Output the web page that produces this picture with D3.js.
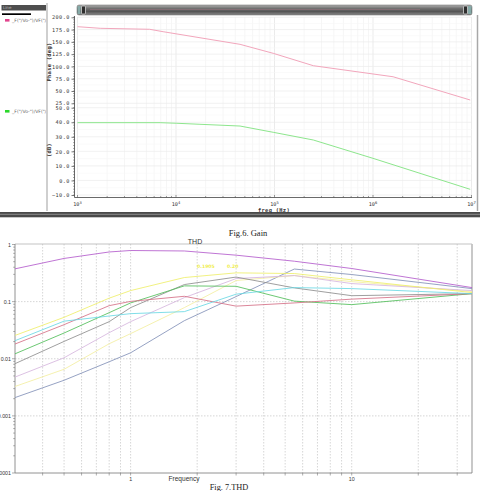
<!DOCTYPE html>
<html>
<head>
<meta charset="utf-8">
<script src="https://cdn.jsdelivr.net/npm/d3@7"></script>
<style>
  body { margin: 0; background: #fff; }
  svg { display: block; }
  .mono { font-family: "DejaVu Sans Mono", monospace; fill: #333; }
</style>
</head>
<body>
<div id="chart"></div>
<script>
// ---- Fig.6 (bode) data ----
const bodeDecades = [1e3, 1e4, 1e5, 1e6, 1e7];
const phaseTicks = [25, 50, 75, 100, 125, 150, 175, 200];
const gainTicks = [-10, 0, 10, 20, 30, 40, 50];

const phaseFreq = [1e3, 1.7e3, 5.4e3, 7.4e3, 4.47e4, 9.7e4, 2.48e5, 1.6e6, 9.7e6];
const phaseDeg  = [180.9, 177.6, 175.6, 170.7, 145, 126.7, 101.5, 79, 31.7];

const gainFreq = [1e3, 6.9e3, 1.02e4, 1.75e4, 4.47e4, 9.7e4, 2.48e5, 1.0e6, 9.7e6];
const gainDb   = [39.7, 39.7, 39.3, 38.6, 37.4, 33.1, 27.8, 15.2, -6.1];

// ---- Fig.7 (THD) data ----
const thdFreq = [0.3, 0.5, 0.8, 1, 1.75, 3, 5.5, 10, 35];
const thdPurple     = [0.375, 0.57, 0.74, 0.785, 0.77, 0.65, 0.51, 0.38, 0.176];
const thdYellow     = [0.0256, 0.0531, 0.115, 0.156, 0.264, 0.319, 0.31, 0.241, 0.144];
const thdCyan       = [0.0207, 0.0455, 0.056, 0.0616, 0.0668, 0.135, 0.176, 0.169, 0.138];
const thdRed        = [0.0181, 0.0395, 0.085, 0.101, 0.124, 0.0834, 0.0949, 0.1106, 0.138];
const thdGreen      = [0.0122, 0.0282, 0.0641, 0.0949, 0.1886, 0.1856, 0.102, 0.0886, 0.138];
const thdGray       = [0.0082, 0.0201, 0.0446, 0.0785, 0.199, 0.269, 0.174, 0.127, 0.138];
const thdLavender   = [0.00478, 0.0104, 0.0286, 0.0446, 0.1175, 0.253, 0.286, 0.207, 0.156];
const thdPaleYellow = [0.00327, 0.00654, 0.0183, 0.0275, 0.0785, 0.234, 0.286, 0.224, 0.15];
const thdSlate      = [0.00209, 0.0042, 0.00886, 0.0127, 0.0464, 0.1225, 0.372, 0.298, 0.169];

const thdSeries = [
  { name: "slate", color: "#8391b8", values: thdSlate },
  { name: "paleYellow", color: "#f3efa0", values: thdPaleYellow },
  { name: "lavender", color: "#d6b6de", values: thdLavender },
  { name: "gray", color: "#8e8e8e", values: thdGray },
  { name: "green", color: "#52be5a", values: thdGreen },
  { name: "red", color: "#d47086", values: thdRed },
  { name: "cyan", color: "#6ad8e4", values: thdCyan },
  { name: "yellow", color: "#eeee6a", values: thdYellow },
  { name: "purple", color: "#b45ccc", values: thdPurple }
];
const thdYLabels = ["0.0001", "0.001", "0.01", "0.1", "1"];
const thdXLabels = ["1", "10"];

const svg = d3.select("#chart").append("svg")
  .attr("width", 480).attr("height", 491);

// ================= Fig.6 : waveform viewer =================
const xBode = d3.scaleLog().domain([1e3, 1e7]).range([77.5, 471.5]);
const yPhase = d3.scaleLinear().domain([25, 200]).range([103.3, 17.3]);
const yGain = d3.scaleLinear().domain([-10, 50]).range([195, 107.7]);

// left legend panel
svg.append("rect").attr("x", 1.5).attr("y", 5).attr("width", 45).attr("height", 5.5).attr("fill", "#4e4e4e");
svg.append("text").attr("x", 3).attr("y", 9.4).attr("font-size", 4).attr("fill", "#bbb")
  .attr("font-family", "DejaVu Sans").text("Line");
svg.append("rect").attr("x", 2).attr("y", 13.3).attr("width", 29).attr("height", 1.7).attr("fill", "#000");

const legendClip = svg.append("clipPath").attr("id", "legclip");
legendClip.append("rect").attr("x", 0).attr("y", 0).attr("width", 46).attr("height", 220);
const legend = svg.append("g").attr("clip-path", "url(#legclip)");
[{ y: 19, color: "#e2448e" }, { y: 110, color: "#2bd82b" }].forEach(d => {
  legend.append("rect").attr("x", 5).attr("y", d.y).attr("width", 4.5).attr("height", 2.6).attr("fill", d.color);
  legend.append("text").attr("x", 12).attr("y", d.y + 2.7).attr("font-size", 4.6)
    .attr("font-family", "DejaVu Sans").attr("fill", "#666")
    .text('_F("/Vo-")/VF("/Vi")');
});
svg.append("line").attr("x1", 47).attr("x2", 47).attr("y1", 3).attr("y2", 211)
  .attr("stroke", "#cfcfcf").attr("stroke-width", 2);

// scrollbar on top
const grad = svg.append("defs").append("linearGradient").attr("id", "bar")
  .attr("x1", 0).attr("x2", 0).attr("y1", 0).attr("y2", 1);
grad.append("stop").attr("offset", "0%").attr("stop-color", "#b0b0b0");
grad.append("stop").attr("offset", "35%").attr("stop-color", "#707070");
grad.append("stop").attr("offset", "65%").attr("stop-color", "#555");
grad.append("stop").attr("offset", "100%").attr("stop-color", "#8a8a8a");
svg.append("rect").attr("x", 77).attr("y", 5).attr("width", 395).attr("height", 10).attr("rx", 2)
  .attr("fill", "url(#bar)").attr("stroke", "#666").attr("stroke-width", 0.5);
svg.append("line").attr("x1", 90).attr("x2", 420).attr("y1", 9.5).attr("y2", 9.5)
  .attr("stroke", "#b07a8c").attr("stroke-opacity", 0.5).attr("stroke-width", 0.8);
svg.append("rect").attr("x", 77.5).attr("y", 6).attr("width", 3).attr("height", 8).attr("fill", "#86aaa8");
svg.append("rect").attr("x", 468).attr("y", 6).attr("width", 3.5).attr("height", 8).attr("fill", "#86aaa8");
[81.5, 463.5].forEach(x => {
  svg.append("rect").attr("x", x).attr("y", 6).attr("width", 4).attr("height", 8).attr("rx", 1)
    .attr("fill", "#2e2e2e").attr("stroke", "#e8e8e8").attr("stroke-width", 0.7);
});

// right border and bottom bars
svg.append("line").attr("x1", 477.5).attr("x2", 477.5).attr("y1", 15).attr("y2", 211)
  .attr("stroke", "#a8a8a8").attr("stroke-width", 1.5);
svg.append("rect").attr("x", 0).attr("y", 212).attr("width", 480).attr("height", 5.3).attr("fill", "#4a4a4a");
svg.append("line").attr("x1", 0).attr("x2", 480).attr("y1", 214.3).attr("y2", 214.3)
  .attr("stroke", "#9a9a9a").attr("stroke-width", 0.8);

// grid
const bodeGrid = svg.append("g");
xBode.ticks().forEach(f => {
  const major = bodeDecades.includes(f);
  bodeGrid.append("line").attr("x1", xBode(f)).attr("x2", xBode(f)).attr("y1", 17).attr("y2", 196)
    .attr("stroke", major ? "#e6e6e6" : "#f4f4f4").attr("stroke-width", 0.8);
});
phaseTicks.forEach(v => {
  bodeGrid.append("line").attr("x1", 77).attr("x2", 472).attr("y1", yPhase(v)).attr("y2", yPhase(v))
    .attr("stroke", "#ebebeb").attr("stroke-width", 0.7);
  if (v > 25) bodeGrid.append("line").attr("x1", 77).attr("x2", 472)
    .attr("y1", yPhase(v - 12.5)).attr("y2", yPhase(v - 12.5)).attr("stroke", "#f6f6f6").attr("stroke-width", 0.6);
});
gainTicks.forEach(v => {
  bodeGrid.append("line").attr("x1", 77).attr("x2", 472).attr("y1", yGain(v)).attr("y2", yGain(v))
    .attr("stroke", "#ebebeb").attr("stroke-width", 0.7);
  if (v > -10) bodeGrid.append("line").attr("x1", 77).attr("x2", 472)
    .attr("y1", yGain(v - 5)).attr("y2", yGain(v - 5)).attr("stroke", "#f6f6f6").attr("stroke-width", 0.6);
});

// y axes (phase + gain) with minor ticks
function bodeYAxis(scale, ticks, minorStep) {
  const g = svg.append("g").attr("transform", "translate(74.5,0)")
    .call(d3.axisLeft(scale).tickValues(ticks).tickSize(3).tickPadding(1.5).tickFormat(d3.format(".1f")));
  g.select(".domain").remove();
  g.selectAll("line").attr("stroke", "#444").attr("stroke-width", 0.7);
  g.selectAll("text").attr("class", "mono").attr("font-size", 5.2).attr("letter-spacing", 0.5)
    .attr("fill", "#444");
  const [lo, hi] = scale.domain();
  for (let v = lo; v <= hi; v += minorStep) {
    g.append("line").attr("x1", -1.5).attr("x2", 0).attr("y1", scale(v)).attr("y2", scale(v))
      .attr("stroke", "#555").attr("stroke-width", 0.5);
  }
}
bodeYAxis(yPhase, phaseTicks, 5);
bodeYAxis(yGain, gainTicks, 2);
svg.append("line").attr("x1", 74.5).attr("x2", 74.5).attr("y1", 16).attr("y2", 197.5)
  .attr("stroke", "#444").attr("stroke-width", 0.8);

svg.append("text").attr("class", "mono").attr("font-size", 5.4).attr("font-weight", "bold")
  .attr("fill", "#555").attr("text-anchor", "middle").attr("letter-spacing", 0.3)
  .attr("transform", "translate(51,62) rotate(-90)").text("Phase (deg)");
svg.append("text").attr("class", "mono").attr("font-size", 5.4).attr("font-weight", "bold")
  .attr("fill", "#555").attr("text-anchor", "middle").attr("letter-spacing", 0.3)
  .attr("transform", "translate(51,150) rotate(-90)").text("(dB)");

// x axis
const xAxisG = svg.append("g").attr("transform", "translate(0,197.5)");
xAxisG.append("line").attr("x1", 74.5).attr("x2", 472).attr("stroke", "#444").attr("stroke-width", 0.8);
xBode.ticks().forEach(f => {
  const major = bodeDecades.includes(f);
  xAxisG.append("line").attr("x1", xBode(f)).attr("x2", xBode(f)).attr("y1", major ? -2.5 : -1.5).attr("y2", 0)
    .attr("stroke", "#555").attr("stroke-width", 0.6);
});
bodeDecades.forEach(f => {
  const t = xAxisG.append("text").attr("class", "mono").attr("x", xBode(f)).attr("y", 8.5)
    .attr("text-anchor", "middle").attr("font-size", 5.2).attr("fill", "#444");
  t.append("tspan").text("10");
  t.append("tspan").attr("dy", -2).attr("font-size", 3.8).text(Math.round(Math.log10(f)));
});
svg.append("text").attr("class", "mono").attr("x", 274).attr("y", 211.5).attr("text-anchor", "middle")
  .attr("font-size", 5.4).attr("font-weight", "bold").attr("fill", "#555").attr("letter-spacing", 0.3)
  .text("freq (Hz)");

// curves
const phaseLine = d3.line().x((d, i) => xBode(phaseFreq[i])).y(d => yPhase(d));
svg.append("path").datum(phaseDeg).attr("d", phaseLine)
  .attr("fill", "none").attr("stroke", "#f2a6bc").attr("stroke-width", 1);
const gainLine = d3.line().x((d, i) => xBode(gainFreq[i])).y(d => yGain(d));
svg.append("path").datum(gainDb).attr("d", gainLine)
  .attr("fill", "none").attr("stroke", "#8de68d").attr("stroke-width", 1);

svg.append("text").attr("x", 248).attr("y", 236).attr("text-anchor", "middle")
  .attr("font-family", "Liberation Serif").attr("font-size", 8.5).attr("fill", "#222")
  .text("Fig.6. Gain");

// ================= Fig.7 : THD =================
const xThd = d3.scaleLog().domain([0.3, 35]).range([15, 472]);
const yThd = d3.scaleLog().domain([1e-4, 1]).range([473, 244.5]);

const thdGrid = svg.append("g");
xThd.ticks().filter(f => f > 0.31 && f < 34).forEach(f => {
  thdGrid.append("line").attr("x1", xThd(f)).attr("x2", xThd(f)).attr("y1", 244).attr("y2", 473)
    .attr("stroke", "#c4c4c4").attr("stroke-width", 0.7).attr("stroke-dasharray", "1.5,1.5");
});
[1e-3, 1e-2, 1e-1].forEach(v => {
  thdGrid.append("line").attr("x1", 15).attr("x2", 472).attr("y1", yThd(v)).attr("y2", yThd(v))
    .attr("stroke", "#c4c4c4").attr("stroke-width", 0.7).attr("stroke-dasharray", "1.5,1.5");
});

// frame
svg.append("line").attr("x1", 15).attr("x2", 472).attr("y1", 244).attr("y2", 244)
  .attr("stroke", "#b4b4b4").attr("stroke-width", 0.8);
svg.append("line").attr("x1", 472).attr("x2", 472).attr("y1", 244).attr("y2", 473)
  .attr("stroke", "#c2c2c2").attr("stroke-width", 1.8);

// y axis
const yAxisThd = svg.append("g").attr("transform", "translate(15,0)");
yAxisThd.append("line").attr("y1", 244).attr("y2", 473).attr("stroke", "#777").attr("stroke-width", 0.8);
yThd.ticks().forEach(v => {
  const major = Math.abs(Math.log10(v) - Math.round(Math.log10(v))) < 1e-9;
  yAxisThd.append("line").attr("x1", major ? -3 : -1.8).attr("x2", 0).attr("y1", yThd(v)).attr("y2", yThd(v))
    .attr("stroke", "#777").attr("stroke-width", 0.6);
});
thdYLabels.forEach(s => {
  yAxisThd.append("text").attr("x", -4).attr("y", yThd(+s) + 2)
    .attr("text-anchor", "end").attr("font-family", "Liberation Sans").attr("font-size", 5.3)
    .attr("fill", "#333").text(s);
});

// x axis
const xAxisThd = svg.append("g").attr("transform", "translate(0,473)");
xAxisThd.append("line").attr("x1", 15).attr("x2", 472).attr("stroke", "#777").attr("stroke-width", 0.8);
xThd.ticks().filter(f => f > 0.31 && f < 34).forEach(f => {
  xAxisThd.append("line").attr("x1", xThd(f)).attr("x2", xThd(f)).attr("y1", 0).attr("y2", 2.5)
    .attr("stroke", "#777").attr("stroke-width", 0.6);
});
thdXLabels.forEach(s => {
  xAxisThd.append("text").attr("x", xThd(+s)).attr("y", 8).attr("text-anchor", "middle")
    .attr("font-family", "Liberation Sans").attr("font-size", 5.3).attr("fill", "#333").text(s);
});

// lines
const thdLine = d3.line().x((d, i) => xThd(thdFreq[i])).y(d => yThd(d));
svg.append("g").selectAll("path").data(thdSeries).join("path")
  .attr("d", d => thdLine(d.values))
  .attr("fill", "none").attr("stroke", d => d.color).attr("stroke-width", 0.85);

// marker readouts
svg.append("text").attr("x", 197).attr("y", 267.5).attr("font-family", "DejaVu Sans")
  .attr("font-size", 4.6).attr("font-weight", "bold").attr("fill", "#f0ee50").text("0.1905");
svg.append("text").attr("x", 227).attr("y", 267.5).attr("font-family", "DejaVu Sans")
  .attr("font-size", 4.6).attr("font-weight", "bold").attr("fill", "#f0ee50").text("0.20");

svg.append("text").attr("x", 195).attr("y", 244.3).attr("text-anchor", "middle")
  .attr("font-family", "Liberation Sans").attr("font-size", 7).attr("fill", "#333").text("THD");
svg.append("text").attr("x", 184).attr("y", 481).attr("text-anchor", "middle")
  .attr("font-family", "Liberation Sans").attr("font-size", 6.6).attr("fill", "#333").text("Frequency");

svg.append("text").attr("x", 229).attr("y", 490).attr("text-anchor", "middle")
  .attr("font-family", "Liberation Serif").attr("font-size", 8.3).attr("fill", "#222")
  .text("Fig. 7.THD");
</script>
</body>
</html>
